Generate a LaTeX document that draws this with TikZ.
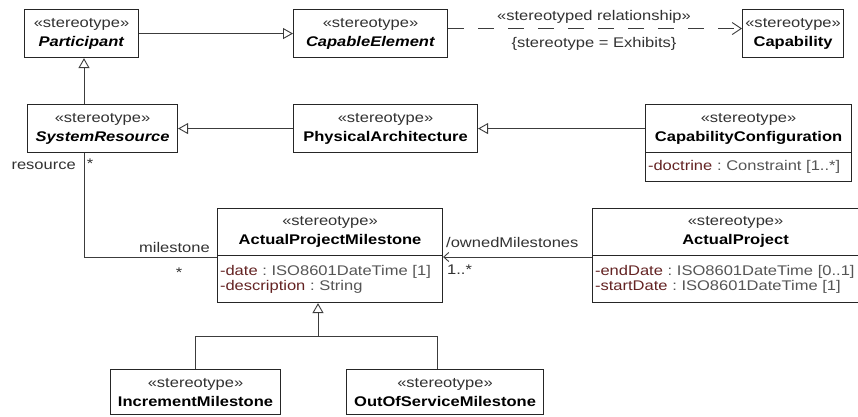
\documentclass[tikz,border=0pt]{standalone}
\usepackage{fontspec}
\setmainfont[FakeStretch=1.18]{Liberation Sans}
\usetikzlibrary{arrows.meta}
\definecolor{attrn}{RGB}{100,35,35}
\definecolor{attrt}{RGB}{85,85,85}
\definecolor{stxt}{RGB}{50,50,50}
\definecolor{ln}{RGB}{60,60,60}
\newcommand{\stt}{\textcolor{stxt}{«stereotype»}}
\newcommand{\attr}[2]{\textcolor{attrn}{-#1}\textcolor{attrt}{\ :\ #2}}
\begin{document}
\begin{tikzpicture}[x=1pt,y=-1pt,
  every node/.style={font=\fontsize{14}{19}\selectfont},
  cls/.style={draw=black!85, line width=1.1pt, fill=white, inner sep=0pt, anchor=north west, align=center},
  attrs/.style={draw=black!85, line width=1.1pt, fill=white, inner xsep=2.5pt, inner ysep=0pt, anchor=north west, align=left, font=\fontsize{14}{15}\selectfont},
  gen/.style={draw=ln, line width=0.9pt, -{Triangle[open,length=10pt,width=11pt,fill=white]}},
  dep/.style={draw=ln, line width=0.9pt, dash pattern=on 16pt off 14pt, -{Straight Barb[length=9pt,width=12pt]}},
  assoc/.style={draw=ln, line width=0.9pt},
  nav/.style={assoc, -{Straight Barb[length=5pt,width=9pt]}},
  lab/.style={inner sep=0pt, text=stxt, font=\fontsize{14}{15}\selectfont}]
\clip (0,0) rectangle (858,416);
% classes
\node[cls, minimum width=114pt, minimum height=48pt] (part) at (24,9) {\stt\\\textbf{\textit{Participant}}};
\node[cls, minimum width=154pt, minimum height=48pt] (capel) at (293,9) {\stt\\\textbf{\textit{CapableElement}}};
\node[cls, minimum width=101pt, minimum height=48pt] (capab) at (742,9) {\stt\\\textbf{Capability}};
\node[cls, minimum width=150pt, minimum height=48pt] (sysres) at (27,104) {\stt\\\textbf{\textit{SystemResource}}};
\node[cls, minimum width=184pt, minimum height=48pt] (physarch) at (293,104) {\stt\\\textbf{PhysicalArchitecture}};
\node[cls, minimum width=206pt, minimum height=48pt] (capconf) at (645,104) {\stt\\\textbf{CapabilityConfiguration}};
\node[attrs, text width=201pt, minimum height=29pt] (capconfa) at (645,152) {\attr{doctrine}{Constraint [1..*]}};
\node[cls, minimum width=225pt, minimum height=47pt] (apm) at (217,208) {\stt\\\textbf{ActualProjectMilestone}};
\node[attrs, text width=220pt, minimum height=47pt] (apma) at (217,255) {\attr{date}{ISO8601DateTime [1]}\\\attr{description}{String}};
\node[cls, minimum width=286pt, minimum height=47pt] (ap) at (592,208) {\stt\\\textbf{ActualProject}};
\node[attrs, text width=281pt, minimum height=47pt] (apa) at (592,255) {\attr{endDate}{ISO8601DateTime [0..1]}\\\attr{startDate}{ISO8601DateTime [1]}};
\node[cls, minimum width=170pt, minimum height=45pt] (incm) at (110,369) {\stt\\\textbf{IncrementMilestone}};
\node[cls, minimum width=197pt, minimum height=45pt] (oosm) at (346,369) {\stt\\\textbf{OutOfServiceMilestone}};
% helper coordinates
\coordinate (gx) at (84,0);
\coordinate (ay) at (0,257);
\coordinate (j) at (318,336);
\coordinate (k) at (437,0);
% connectors
\draw[gen] (part) -- (capel);
\draw[dep] ([yshift=5pt]capel.east) -- ([yshift=5pt]capab.west);
\draw[gen] (sysres.north -| gx) -- (part.south -| gx);
\draw[gen] (physarch) -- (sysres);
\draw[gen] (capconf) -- (physarch);
\draw[assoc] (sysres.south -| gx) |- (apma.north west |- ay);
\draw[nav] (apa.north west |- ay) -- (apma.north east |- ay);
\draw[assoc] (incm.north) |- (j);
\draw[assoc] (oosm.north -| k) |- (j);
\draw[gen] (j) -- (j |- apma.south);
% labels
\node[lab, anchor=base] (l1) at (594,20) {«stereotyped relationship»};
\node[lab, anchor=base] (l2) at (594,47) {\{stereotype = Exhibits\}};
\node[lab, anchor=base east] (l3) at (76,169) {resource};
\node[lab, anchor=base] (l4) at (90,168) {*};
\node[lab, anchor=base east] (l5) at (210,252) {milestone};
\node[lab, anchor=base] (l6) at (179,277) {*};
\node[lab, anchor=base west] (l7) at (446,247) {/ownedMilestones};
\node[lab, anchor=base west] (l8) at (447,274) {1..*};
\end{tikzpicture}
\end{document}
